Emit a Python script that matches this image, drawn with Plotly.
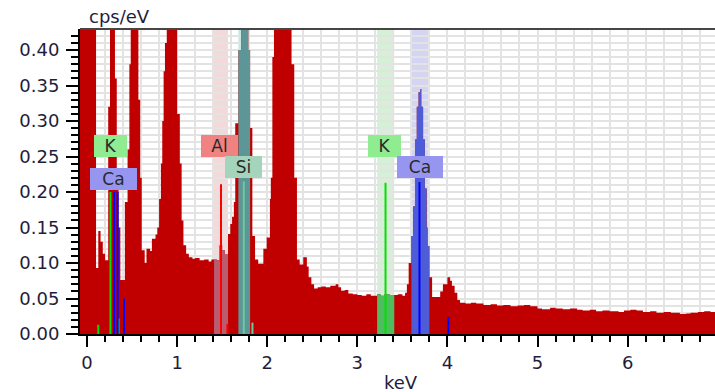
import plotly.graph_objects as go

# ---- spectrum (step start energy in keV, counts in cps/eV) ----
energy = [-0.08, 0.10, 0.125, 0.15, 0.175, 0.20, 0.235, 0.255, 0.31, 0.33, 0.35, 0.37, 0.42, 0.45, 0.47,
          0.485, 0.57, 0.59, 0.607, 0.64, 0.66, 0.70, 0.72, 0.76, 0.78, 0.80, 0.82, 0.835, 0.85, 0.865,
          0.885, 1.00, 1.03, 1.05, 1.07, 1.10, 1.13, 1.17, 1.20, 1.25, 1.30, 1.35, 1.38, 1.41, 1.44,
          1.47, 1.50, 1.53, 1.565, 1.59, 1.61, 1.63, 1.645, 1.68, 1.71, 1.79, 1.81, 1.835, 1.865, 1.90,
          1.957, 1.994, 2.03, 2.04, 2.057, 2.075, 2.27, 2.30, 2.33, 2.36, 2.40, 2.44, 2.46, 2.49, 2.52,
          2.56, 2.60, 2.65, 2.70, 2.76, 2.79, 2.82, 2.86, 2.90, 2.95, 3.00, 3.05, 3.10, 3.15, 3.22,
          3.26, 3.30, 3.36, 3.41, 3.45, 3.50, 3.53, 3.55, 3.57, 3.60, 3.62, 3.64, 3.66, 3.68, 3.70,
          3.71, 3.73, 3.75, 3.77, 3.78, 3.80, 3.83, 3.92, 3.95, 4.00, 4.03, 4.05, 4.08, 4.11, 4.14,
          4.20, 4.26, 4.32, 4.40, 4.48, 4.55, 4.62, 4.70, 4.78, 4.85, 4.92, 5.00, 5.05, 5.14, 5.20,
          5.28, 5.36, 5.44, 5.50, 5.58, 5.65, 5.72, 5.80, 5.90, 5.96, 6.03, 6.10, 6.17, 6.25, 6.32,
          6.40, 6.48, 6.58, 6.65, 6.70, 6.78, 6.85, 6.92, 6.97]
counts = [0.60, 0.093, 0.145, 0.13, 0.113, 0.104, 0.32, 0.60, 0.36, 0.22, 0.15, 0.076, 0.186, 0.26, 0.38,
          0.60, 0.33, 0.22, 0.118, 0.10, 0.12, 0.117, 0.134, 0.14, 0.15, 0.19, 0.24, 0.30, 0.37, 0.41,
          0.60, 0.31, 0.24, 0.16, 0.125, 0.113, 0.108, 0.106, 0.107, 0.104, 0.105, 0.102, 0.105, 0.105, 0.104,
          0.125, 0.118, 0.112, 0.141, 0.155, 0.165, 0.186, 0.297, 0.40, 0.60, 0.40, 0.29, 0.138, 0.105, 0.099,
          0.12, 0.136, 0.19, 0.22, 0.39, 0.60, 0.38, 0.22, 0.105, 0.098, 0.108, 0.095, 0.08, 0.07, 0.064,
          0.066, 0.067, 0.066, 0.068, 0.07, 0.066, 0.061, 0.062, 0.057, 0.056, 0.055, 0.054, 0.056, 0.054, 0.056,
          0.054, 0.056, 0.055, 0.055, 0.056, 0.054, 0.058, 0.07, 0.10, 0.138, 0.18, 0.274, 0.32, 0.341, 0.345,
          0.32, 0.274, 0.205, 0.15, 0.124, 0.08, 0.052, 0.06, 0.07, 0.08, 0.075, 0.068, 0.058, 0.048, 0.044,
          0.043, 0.044, 0.043, 0.041, 0.042, 0.040, 0.041, 0.039, 0.040, 0.041, 0.039, 0.036, 0.035, 0.037, 0.036,
          0.035, 0.036, 0.034, 0.033, 0.034, 0.032, 0.033, 0.032, 0.031, 0.033, 0.034, 0.033, 0.031, 0.032, 0.030,
          0.031, 0.030, 0.028, 0.029, 0.030, 0.031, 0.032, 0.031, 0.031]

# ---- element regions of interest ----
roi_element = ["Al", "Si", "K", "Ca"]
roi_start = [1.41, 1.68, 3.22, 3.60]
roi_end = [1.565, 1.81, 3.41, 3.80]
roi_band = ["rgba(225,160,160,0.40)", "rgba(120,190,180,0.40)", "rgba(150,220,150,0.40)", "rgba(150,150,220,0.40)"]
roi_fill = ["rgb(185,92,112)", "rgb(92,150,150)", "rgb(80,188,96)", "rgb(78,92,216)"]

# ---- element marker lines ----
line_element = ["K", "K", "K", "K", "Ca", "Ca", "Ca", "Ca", "Ca", "Al", "Al", "Si", "Si"]
line_energy = [0.26, 0.35, 0.125, 3.313, 0.30, 0.34, 0.41, 3.69, 4.01, 1.487, 1.557, 1.74, 1.836]
line_height = [0.20, 0.022, 0.013, 0.213, 0.20, 0.20, 0.05, 0.214, 0.024, 0.211, 0.014, 0.215, 0.016]
line_colors = {"K": "rgb(0,225,0)", "Ca": "rgb(0,0,255)", "Al": "rgb(255,0,0)", "Si": "rgb(110,200,160)"}

# ---- labels ----
label_text = ["K", "Ca", "Al", "Si", "K", "Ca"]
label_x = [0.255, 0.289, 1.47, 1.737, 3.30, 3.696]
label_y = [0.265, 0.218, 0.265, 0.235, 0.265, 0.235]
label_w = [33, 47, 37, 37, 33, 46]
label_bg = {"K": "rgb(144,236,144)", "Ca": "rgb(150,150,240)", "Al": "rgb(240,130,130)", "Si": "rgb(164,212,188)"}

y_ticks = [0.00, 0.05, 0.10, 0.15, 0.20, 0.25, 0.30, 0.35, 0.40]
x_ticks = [0, 1, 2, 3, 4, 5, 6, 7]

FONT = "DejaVu Sans"
TXT = "#1e1e3c"
RED = "rgb(192,0,0)"
FS = 18

fig = go.Figure()

# main spectrum
fig.add_trace(go.Scatter(x=energy, y=counts, mode="lines", line=dict(shape="hv", width=0, color=RED),
                         fill="tozeroy", fillcolor=RED, hoverinfo="skip", showlegend=False))

# coloured ROI portions of the spectrum
for el, a, b, col in zip(roi_element, roi_start, roi_end, roi_fill):
    xs, ys = [], []
    for e, c in zip(energy, counts):
        if a <= e < b:
            xs.append(e)
            ys.append(c)
    xs.append(b)
    ys.append(ys[-1])
    fig.add_trace(go.Scatter(x=xs, y=ys, mode="lines", line=dict(shape="hv", width=0, color=col),
                             fill="tozeroy", fillcolor=col, hoverinfo="skip", showlegend=False))

# element marker lines
for el in line_colors:
    xs, ys = [], []
    for le, e, h in zip(line_element, line_energy, line_height):
        if le == el:
            xs += [e, e, None]
            ys += [0, h, None]
    fig.add_trace(go.Scatter(x=xs, y=ys, mode="lines", line=dict(color=line_colors[el], width=2),
                             hoverinfo="skip", showlegend=False))

shapes = []
for a, b, col in zip(roi_start, roi_end, roi_band):
    shapes.append(dict(type="rect", xref="x", yref="paper", x0=a, x1=b, y0=0, y1=1,
                       fillcolor=col, line=dict(width=0), layer="between"))
shapes.append(dict(type="line", xref="paper", yref="paper", x0=0, x1=1, y0=1, y1=1,
                   line=dict(color="rgb(70,70,70)", width=2), layer="above"))

annotations = []
for t, x, y, w in zip(label_text, label_x, label_y, label_w):
    annotations.append(dict(x=x, y=y, xref="x", yref="y", text=t, showarrow=False,
                            bgcolor=label_bg[t], width=w, height=22, borderpad=0, borderwidth=0,
                            font=dict(family=FONT, size=17, color="#2a2a2a"),
                            xanchor="center", yanchor="middle"))
annotations.append(dict(x=7 / 635, y=1.0, xref="paper", yref="paper", text="cps/eV", showarrow=False,
                        xanchor="left", yanchor="bottom", yshift=0,
                        font=dict(family=FONT, size=FS, color=TXT)))
annotations.append(dict(x=(401 - 80) / 635, y=(334 - 382) / 305, xref="paper", yref="paper", text="keV",
                        showarrow=False, xanchor="center", yanchor="middle",
                        font=dict(family=FONT, size=FS, color=TXT)))

fig.update_layout(
    width=715, height=392,
    margin=dict(l=80, r=0, t=29, b=58),
    paper_bgcolor="white", plot_bgcolor="white",
    shapes=shapes, annotations=annotations,
    font=dict(family=FONT, size=FS, color=TXT),
    xaxis=dict(range=[-0.078, 6.97], tickmode="array", tickvals=x_ticks,
               ticktext=[str(v) for v in x_ticks],
               showline=True, linecolor="black", linewidth=2,
               ticks="outside", ticklen=11, tickwidth=2, tickcolor="black",
               showgrid=True, gridcolor="#e3e3e3", gridwidth=2, zeroline=False,
               minor=dict(dtick=0.2, tick0=0, ticks="outside", ticklen=6, tickwidth=2, tickcolor="black",
                          showgrid=True, gridcolor="#e3e3e3", gridwidth=2),
               tickfont=dict(family=FONT, size=FS, color=TXT)),
    yaxis=dict(range=[0, 0.4296], tickmode="array", tickvals=y_ticks,
               ticktext=["%.2f" % v for v in y_ticks],
               showline=True, linecolor="black", linewidth=2,
               ticks="outside", ticklen=12, tickwidth=2, tickcolor="black",
               ticklabelstandoff=3,
               showgrid=True, gridcolor="#e3e3e3", gridwidth=2, zeroline=False,
               minor=dict(dtick=0.01, tick0=0, ticks="outside", ticklen=7, tickwidth=2, tickcolor="black",
                          showgrid=True, gridcolor="#e3e3e3", gridwidth=2),
               tickfont=dict(family=FONT, size=FS, color=TXT)),
)

fig.write_html("out.html", config={"displayModeBar": False},
               post_script="document.body.style.margin='0';document.body.style.padding='0';"
                           "document.documentElement.style.overflow='hidden';")
